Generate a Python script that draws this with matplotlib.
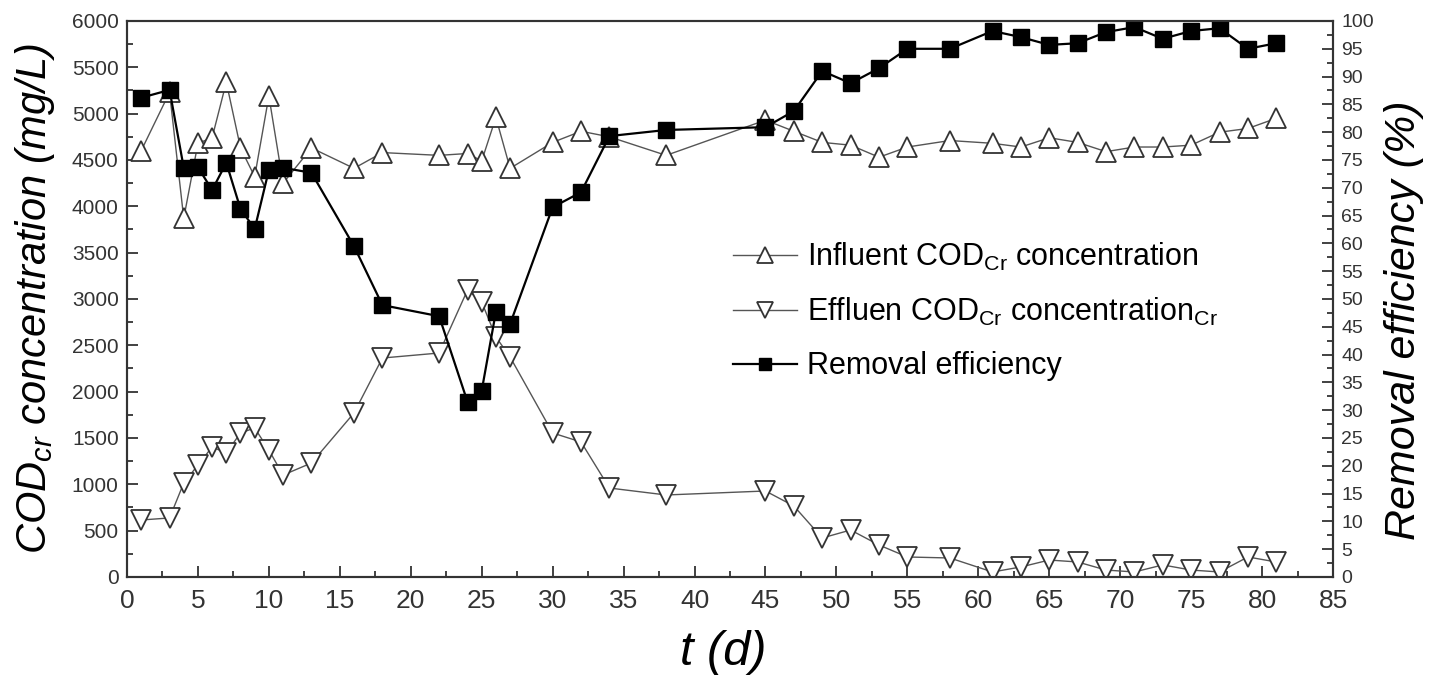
import matplotlib.pyplot as plt
from matplotlib.ticker import MultipleLocator

plt.rcParams['font.family'] = ['Liberation Sans', 'DejaVu Sans']
plt.rcParams['mathtext.fontset'] = 'custom'
plt.rcParams['mathtext.rm'] = 'Liberation Sans'
plt.rcParams['mathtext.it'] = 'Liberation Sans:italic'

days = [1, 3, 4, 5, 6, 7, 8, 9, 10, 11, 13, 16, 18, 22, 24, 25, 26, 27, 30, 32,
        34, 38, 45, 47, 49, 51, 53, 55, 58, 61, 63, 65, 67, 69, 71, 73, 75, 77, 79, 81]

influent = [4600, 5230, 3870, 4680, 4740, 5340, 4630, 4320, 5190, 4250, 4630, 4410, 4580, 4550,
            4570, 4490, 4960, 4410, 4690, 4810, 4750, 4550, 4930, 4810, 4690, 4660, 4530, 4640,
            4710, 4680, 4640, 4740, 4690, 4590, 4640, 4640, 4660, 4800, 4840, 4950]

effluent = [615, 637, 1014, 1208, 1403, 1338, 1554, 1608, 1370, 1100, 1230, 1770, 2363, 2417,
            3097, 2967, 2590, 2374, 1554, 1457, 960, 885, 928, 766, 421, 507, 345, 216,
            205, 54, 108, 183, 162, 75, 54, 130, 75, 54, 216, 162]

removal = [86.2, 87.6, 73.6, 73.7, 69.6, 74.5, 66.2, 62.6, 73.2, 73.6, 72.7, 59.5, 48.9, 46.9,
           31.5, 33.5, 47.7, 45.5, 66.5, 69.2, 79.3, 80.4, 80.9, 83.8, 91.0, 88.8, 91.5, 95.0,
           95.0, 98.2, 97.1, 95.7, 96.0, 98.0, 98.9, 96.8, 98.2, 98.7, 95.0, 96.0]

fig = plt.figure(figsize=(14.48, 6.75), dpi=100)
ax = fig.add_axes([0.0877, 0.1452, 0.8329, 0.8237])
ax2 = ax.twinx()

l1, = ax.plot(days, influent, '-', color='#555555', lw=1.0, marker='^', ms=15,
              mfc='white', mec='#333333', mew=1.3, label=r'Influent COD$_{\mathrm{Cr}}$ concentration')
l2, = ax.plot(days, effluent, '-', color='#555555', lw=1.0, marker='v', ms=15,
              mfc='white', mec='#333333', mew=1.3, label=r'Effluen COD$_{\mathrm{Cr}}$ concentration$_{\mathrm{Cr}}$')
l3, = ax2.plot(days, removal, '-', color='black', lw=1.6, marker='s', ms=11,
               mfc='black', mec='black', label='Removal efficiency')

ax.set_xlim(0, 85)
ax.set_ylim(0, 6000)
ax2.set_ylim(0, 100)

ax.xaxis.set_major_locator(MultipleLocator(5))
ax.xaxis.set_minor_locator(MultipleLocator(2.5))
ax.yaxis.set_major_locator(MultipleLocator(500))
ax.yaxis.set_minor_locator(MultipleLocator(250))
ax2.yaxis.set_major_locator(MultipleLocator(5))
ax2.yaxis.set_minor_locator(MultipleLocator(2.5))

for a in (ax, ax2):
    a.tick_params(which='both', direction='in', colors='#333333', labelsize=14, width=1.3)
    a.tick_params(which='major', length=8)
    a.tick_params(which='minor', length=4)
    for s in a.spines.values():
        s.set_color('#333333')
        s.set_linewidth(1.5)
ax.tick_params(top=False, right=False, which='both')
ax.tick_params(axis='x', labelsize=19, pad=9)
ax.tick_params(axis='y', labelsize=15, pad=6)
ax2.tick_params(axis='y', pad=6)

ax.set_xlabel('t (d)', fontsize=35, style='italic')
ax.xaxis.set_label_coords(0.494, -0.095)
ax.xaxis.label.set_va('top')
ax.set_ylabel(r'$COD_{cr}$ concentration (mg/L)', fontsize=30, style='italic')
ax.yaxis.set_label_coords(-0.058, 0.5)
ax2.set_ylabel('Removal efficiency (%)', fontsize=31, style='italic')
ax2.yaxis.set_label_coords(1.042, 0.462)

leg = ax2.legend(handles=[l1, l2, l3], loc='upper left', bbox_to_anchor=(0.5025, 0.605),
                 frameon=False, fontsize=22, handlelength=2.1, handletextpad=0.33,
                 labelspacing=0.76, borderpad=0, borderaxespad=0, markerscale=0.75)

fig.savefig('out.png', dpi=100)
